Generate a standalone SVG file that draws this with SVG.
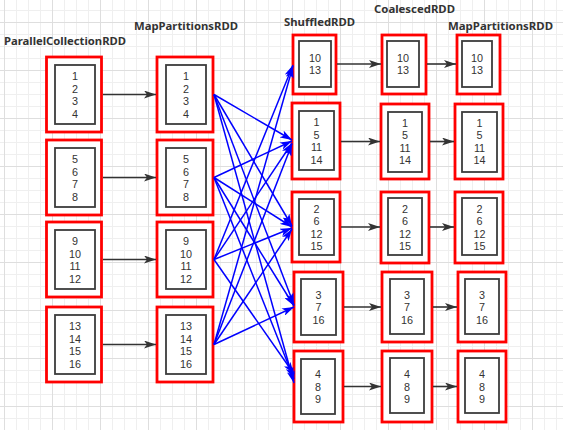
<svg xmlns="http://www.w3.org/2000/svg" width="563" height="430" viewBox="0 0 563 430">
<defs>
<pattern id="minor" width="12" height="12" patternUnits="userSpaceOnUse" x="4" y="10">
<path d="M0,0.5 H12 M0.5,0 V12" fill="none" stroke="#efefef" stroke-width="1"/>
</pattern>
<pattern id="major" width="48" height="48" patternUnits="userSpaceOnUse" x="4" y="22">
<path d="M0,0.5 H48 M0.5,0 V48" fill="none" stroke="#dedede" stroke-width="1"/>
</pattern>
<marker id="ak" viewBox="0 0 12 8" refX="12" refY="4" markerWidth="12" markerHeight="8" markerUnits="userSpaceOnUse" orient="auto">
<path d="M0,0 L12,4 L0,8 L3,4 z" fill="#333333"/>
</marker>
<marker id="ab" viewBox="0 0 12 8" refX="12" refY="4" markerWidth="12" markerHeight="8" markerUnits="userSpaceOnUse" orient="auto">
<path d="M0,0 L12,4 L0,8 L3,4 z" fill="#0000ff"/>
</marker>
</defs>
<style>
.red{fill:#ffffff;stroke:#ff0000;stroke-width:2.8}
.in{fill:#ffffff;stroke:#3c3c3c;stroke-width:1.8}
.num{font-family:"Liberation Sans",Arial,sans-serif;font-size:10.8px;fill:#333333;text-anchor:middle}
.ttl{font-family:"Noto Sans","Liberation Sans",sans-serif;font-size:11px;font-weight:bold;fill:#333333}
.blk{stroke:#333333;stroke-width:1.6;fill:none;marker-end:url(#ak)}
.blu{stroke:#0000ff;stroke-width:1.5;fill:none;marker-end:url(#ab)}
</style>
<rect width="563" height="430" fill="#ffffff"/>
<rect width="563" height="430" fill="url(#minor)"/>
<rect width="563" height="430" fill="url(#major)"/>

<g id="titles">
<text class="ttl" x="4" y="45" textLength="122" lengthAdjust="spacingAndGlyphs">ParallelCollectionRDD</text>
<text class="ttl" x="134" y="30" textLength="104" lengthAdjust="spacingAndGlyphs">MapPartitionsRDD</text>
<text class="ttl" x="284" y="26" textLength="71" lengthAdjust="spacingAndGlyphs">ShuffledRDD</text>
<text class="ttl" x="374" y="13" textLength="81" lengthAdjust="spacingAndGlyphs">CoalescedRDD</text>
<text class="ttl" x="448" y="30" textLength="105" lengthAdjust="spacingAndGlyphs">MapPartitionsRDD</text>
</g>

<!-- ParallelCollectionRDD -->
<g id="pc1"><rect class="red" x="46.5" y="57" width="55" height="75"/><rect class="in" x="55" y="65" width="40" height="59"/>
<text class="num"><tspan x="75" y="80">1</tspan><tspan x="75" y="92.5">2</tspan><tspan x="75" y="105">3</tspan><tspan x="75" y="117.5">4</tspan></text></g>
<g id="pc2"><rect class="red" x="46.5" y="140" width="55" height="75"/><rect class="in" x="55" y="148" width="40" height="59"/>
<text class="num"><tspan x="75" y="163">5</tspan><tspan x="75" y="175.5">6</tspan><tspan x="75" y="188">7</tspan><tspan x="75" y="200.5">8</tspan></text></g>
<g id="pc3"><rect class="red" x="46.5" y="222" width="55" height="75"/><rect class="in" x="55" y="230" width="40" height="59"/>
<text class="num"><tspan x="75" y="245">9</tspan><tspan x="75" y="257.5">10</tspan><tspan x="75" y="270">11</tspan><tspan x="75" y="282.5">12</tspan></text></g>
<g id="pc4"><rect class="red" x="46.5" y="307" width="55" height="75"/><rect class="in" x="55" y="315" width="40" height="59"/>
<text class="num"><tspan x="75" y="330">13</tspan><tspan x="75" y="342.5">14</tspan><tspan x="75" y="355">15</tspan><tspan x="75" y="367.5">16</tspan></text></g>

<!-- MapPartitionsRDD -->
<g id="mp1"><rect class="red" x="157" y="57" width="56" height="75"/><rect class="in" x="166" y="65" width="40" height="59"/>
<text class="num"><tspan x="186" y="80">1</tspan><tspan x="186" y="92.5">2</tspan><tspan x="186" y="105">3</tspan><tspan x="186" y="117.5">4</tspan></text></g>
<g id="mp2"><rect class="red" x="157" y="140" width="56" height="75"/><rect class="in" x="166" y="148" width="40" height="59"/>
<text class="num"><tspan x="186" y="163">5</tspan><tspan x="186" y="175.5">6</tspan><tspan x="186" y="188">7</tspan><tspan x="186" y="200.5">8</tspan></text></g>
<g id="mp3"><rect class="red" x="157" y="222" width="56" height="75"/><rect class="in" x="166" y="230" width="40" height="59"/>
<text class="num"><tspan x="186" y="245">9</tspan><tspan x="186" y="257.5">10</tspan><tspan x="186" y="270">11</tspan><tspan x="186" y="282.5">12</tspan></text></g>
<g id="mp4"><rect class="red" x="157" y="307" width="56" height="75"/><rect class="in" x="166" y="315" width="40" height="59"/>
<text class="num"><tspan x="186" y="330">13</tspan><tspan x="186" y="342.5">14</tspan><tspan x="186" y="355">15</tspan><tspan x="186" y="367.5">16</tspan></text></g>

<!-- ShuffledRDD -->
<g id="sh1"><rect class="red" x="293" y="35" width="43" height="59"/><rect class="in" x="299" y="41" width="32" height="46"/>
<text class="num"><tspan x="315" y="61.5">10</tspan><tspan x="315" y="74">13</tspan></text></g>
<g id="sh2"><rect class="red" x="292" y="103" width="48" height="76"/><rect class="in" x="299" y="111" width="35" height="59"/>
<text class="num"><tspan x="316.5" y="126">1</tspan><tspan x="316.5" y="138.5">5</tspan><tspan x="316.5" y="151">11</tspan><tspan x="316.5" y="163.5">14</tspan></text></g>
<g id="sh3"><rect class="red" x="292" y="192" width="48" height="70"/><rect class="in" x="299" y="199" width="35" height="56"/>
<text class="num"><tspan x="316.5" y="212.5">2</tspan><tspan x="316.5" y="225">6</tspan><tspan x="316.5" y="237.5">12</tspan><tspan x="316.5" y="250">15</tspan></text></g>
<g id="sh4"><rect class="red" x="294" y="272" width="49" height="70"/><rect class="in" x="301" y="279" width="35" height="56"/>
<text class="num"><tspan x="318.5" y="298.5">3</tspan><tspan x="318.5" y="311">7</tspan><tspan x="318.5" y="323.5">16</tspan></text></g>
<g id="sh5"><rect class="red" x="294" y="351" width="49" height="71"/><rect class="in" x="301" y="359" width="34" height="55"/>
<text class="num"><tspan x="318" y="378">4</tspan><tspan x="318" y="390.5">8</tspan><tspan x="318" y="403">9</tspan></text></g>

<!-- CoalescedRDD -->
<g id="co1"><rect class="red" x="382" y="35" width="44" height="59"/><rect class="in" x="387" y="41" width="32" height="46"/>
<text class="num"><tspan x="403" y="61.5">10</tspan><tspan x="403" y="74">13</tspan></text></g>
<g id="co2"><rect class="red" x="381" y="104" width="48" height="75"/><rect class="in" x="388" y="112" width="34" height="60"/>
<text class="num"><tspan x="405" y="126.5">1</tspan><tspan x="405" y="139">5</tspan><tspan x="405" y="151.5">11</tspan><tspan x="405" y="164">14</tspan></text></g>
<g id="co3"><rect class="red" x="381" y="192" width="48" height="71"/><rect class="in" x="388" y="198" width="34" height="57"/>
<text class="num"><tspan x="405" y="212.5">2</tspan><tspan x="405" y="225">6</tspan><tspan x="405" y="237.5">12</tspan><tspan x="405" y="250">15</tspan></text></g>
<g id="co4"><rect class="red" x="382" y="272" width="50" height="70"/><rect class="in" x="390" y="279" width="34" height="55"/>
<text class="num"><tspan x="407" y="298.5">3</tspan><tspan x="407" y="311">7</tspan><tspan x="407" y="323.5">16</tspan></text></g>
<g id="co5"><rect class="red" x="382" y="351" width="50" height="71"/><rect class="in" x="390" y="358" width="34" height="55"/>
<text class="num"><tspan x="407" y="378">4</tspan><tspan x="407" y="390.5">8</tspan><tspan x="407" y="403">9</tspan></text></g>

<!-- MapPartitionsRDD (final) -->
<g id="fm1"><rect class="red" x="457" y="35" width="43" height="59"/><rect class="in" x="462" y="41" width="30" height="46"/>
<text class="num"><tspan x="477" y="61.5">10</tspan><tspan x="477" y="74">13</tspan></text></g>
<g id="fm2"><rect class="red" x="455" y="104" width="48" height="75"/><rect class="in" x="462" y="112" width="35" height="60"/>
<text class="num"><tspan x="479.5" y="126.5">1</tspan><tspan x="479.5" y="139">5</tspan><tspan x="479.5" y="151.5">11</tspan><tspan x="479.5" y="164">14</tspan></text></g>
<g id="fm3"><rect class="red" x="455" y="192" width="48" height="71"/><rect class="in" x="462" y="198" width="35" height="57"/>
<text class="num"><tspan x="479.5" y="212.5">2</tspan><tspan x="479.5" y="225">6</tspan><tspan x="479.5" y="237.5">12</tspan><tspan x="479.5" y="250">15</tspan></text></g>
<g id="fm4"><rect class="red" x="458" y="272" width="48" height="70"/><rect class="in" x="465" y="279" width="34" height="55"/>
<text class="num"><tspan x="482" y="298.5">3</tspan><tspan x="482" y="311">7</tspan><tspan x="482" y="323.5">16</tspan></text></g>
<g id="fm5"><rect class="red" x="458" y="351" width="48" height="71"/><rect class="in" x="465" y="358" width="34" height="55"/>
<text class="num"><tspan x="482" y="378">4</tspan><tspan x="482" y="390.5">8</tspan><tspan x="482" y="403">9</tspan></text></g>

<g id="connectors">
<line class="blk" x1="103" y1="94.5" x2="156" y2="94.5"/>
<line class="blk" x1="103" y1="177.5" x2="156" y2="177.5"/>
<line class="blk" x1="103" y1="259.5" x2="156" y2="259.5"/>
<line class="blk" x1="103" y1="344.5" x2="156" y2="344.5"/>

<line class="blk" x1="337" y1="64" x2="381" y2="64"/>
<line class="blk" x1="341" y1="141.5" x2="380" y2="141.5"/>
<line class="blk" x1="341" y1="227" x2="380" y2="227"/>
<line class="blk" x1="344" y1="307" x2="381" y2="307"/>
<line class="blk" x1="344" y1="386.5" x2="381" y2="386.5"/>

<line class="blk" x1="427" y1="64" x2="456" y2="64"/>
<line class="blk" x1="430" y1="141.5" x2="454" y2="141.5"/>
<line class="blk" x1="430" y1="227" x2="454" y2="227"/>
<line class="blk" x1="433" y1="307" x2="457" y2="307"/>
<line class="blk" x1="433" y1="386.5" x2="457" y2="386.5"/>

<line class="blu" x1="214" y1="94.5" x2="292" y2="140"/>
<line class="blu" x1="214" y1="94.5" x2="292" y2="226"/>
<line class="blu" x1="214" y1="94.5" x2="294" y2="305"/>
<line class="blu" x1="214" y1="94.5" x2="294" y2="383"/>

<line class="blu" x1="214" y1="177.5" x2="292" y2="141"/>
<line class="blu" x1="214" y1="177.5" x2="292" y2="227"/>
<line class="blu" x1="214" y1="177.5" x2="294" y2="306"/>
<line class="blu" x1="214" y1="177.5" x2="294" y2="379"/>

<line class="blu" x1="214" y1="259.5" x2="293" y2="65"/>
<line class="blu" x1="214" y1="259.5" x2="292" y2="143"/>
<line class="blu" x1="214" y1="259.5" x2="292" y2="228"/>
<line class="blu" x1="214" y1="259.5" x2="294" y2="374"/>

<line class="blu" x1="214" y1="344.5" x2="293" y2="66"/>
<line class="blu" x1="214" y1="344.5" x2="292" y2="144"/>
<line class="blu" x1="214" y1="344.5" x2="292" y2="229"/>
<line class="blu" x1="214" y1="344.5" x2="294" y2="307"/>
</g>
</svg>
